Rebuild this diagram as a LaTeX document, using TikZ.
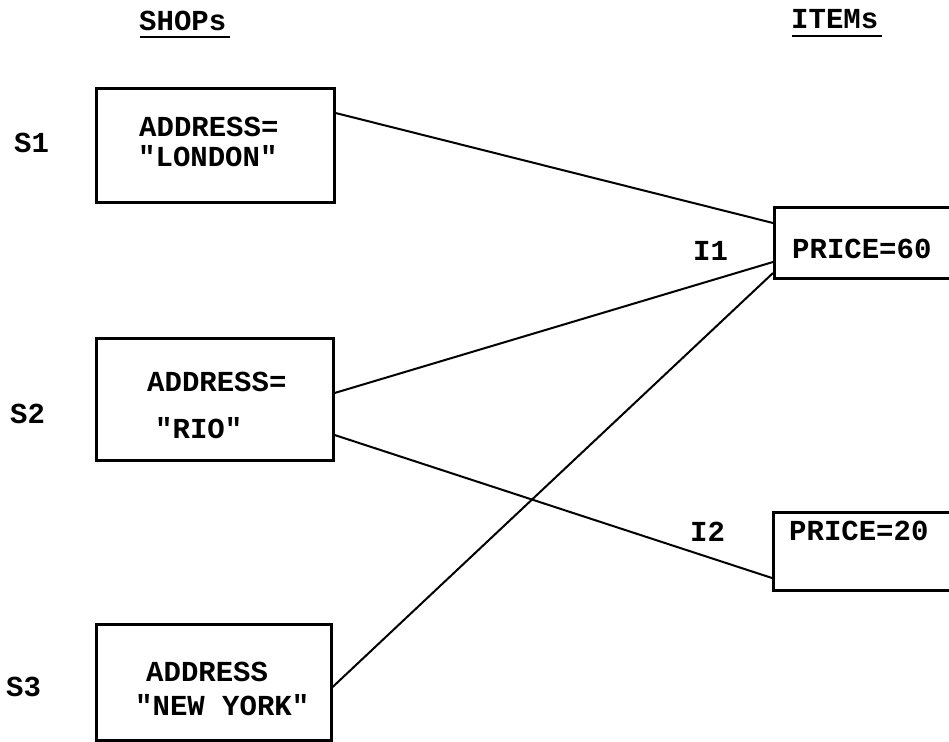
\documentclass[tikz,border=0pt]{standalone}
\usepackage{fontspec}
\setmonofont{Liberation Mono}
\begin{document}
\begin{tikzpicture}[x=1pt,y=-1pt,
  box/.style={draw,line width=2.6pt,inner sep=0pt,anchor=north west},
  lbl/.style={font=\ttfamily\bfseries\fontsize{29}{34}\selectfont,inner sep=0pt,anchor=base west},
  link/.style={line width=2pt},
  uline/.style={line width=2pt}]
\useasboundingbox (0,0) rectangle (949,741);
\clip (0,0) rectangle (949,741);
\fill[white] (0,0) rectangle (949,741);
% headings
\node[lbl] (shops) at (139,31) {SHOPs};
\draw[uline] (140,37) -- (230,37);
\node[lbl] (items) at (791,29) {ITEMs};
\draw[uline] (792,36) -- (882,36);
% shop boxes
\node[box,minimum width=238pt,minimum height=114pt] (s1) at (95,87) {};
\node[box,minimum width=237pt,minimum height=122pt] (s2) at (95,337) {};
\node[box,minimum width=235pt,minimum height=116pt] (s3) at (95,623) {};
% item boxes
\node[box,minimum width=230pt,minimum height=71pt] (i1) at (773,206) {};
\node[box,minimum width=230pt,minimum height=78pt] (i2) at (772,511) {};
% labels
\node[lbl] (ls1) at (14,152) {S1};
\node[lbl] (ls2) at (10,423) {S2};
\node[lbl] (ls3) at (6,696) {S3};
\node[lbl] (li1) at (693,260) {I1};
\node[lbl] (li2) at (690,541) {I2};
% box texts
\node[lbl] (t1a) at (139,136) {ADDRESS=};
\node[lbl] (t1b) at (138,166) {"LONDON"};
\node[lbl] (t2a) at (147,391) {ADDRESS=};
\node[lbl] (t2b) at (155,438) {"RIO"};
\node[lbl] (t3a) at (146,681) {ADDRESS};
\node[lbl] (t3b) at (135,715) {"NEW YORK"};
\node[lbl] (p1) at (792,258) {PRICE=60};
\node[lbl] (p2) at (789,540) {PRICE=20};
% connectors
\draw[link] ([yshift=-26pt]s1.north east) -- ([yshift=-17pt]i1.north west);
\draw[link] ([yshift=-56pt]s2.north east) -- ([yshift=-56pt]i1.north west);
\draw[link] ([yshift=-98pt]s2.north east) -- ([yshift=-67pt]i2.north west);
\draw[link] ([yshift=-64pt]s3.north east) -- ([yshift=-67pt]i1.north west);
\end{tikzpicture}
\end{document}
